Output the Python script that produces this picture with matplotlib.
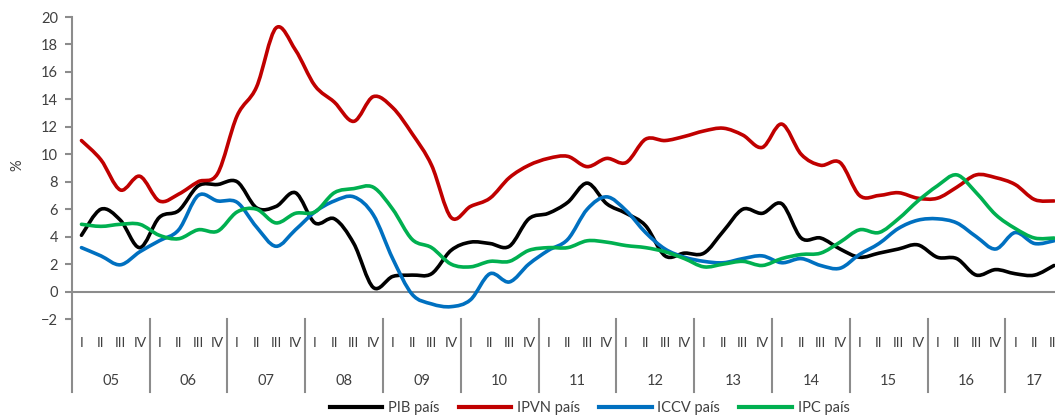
import matplotlib.pyplot as plt
from matplotlib.path import Path
from matplotlib.patches import PathPatch
from matplotlib.lines import Line2D

plt.rcParams['font.family'] = ['Lato', 'DejaVu Sans']

years = ['05', '06', '07', '08', '09', '10', '11', '12', '13', '14', '15', '16', '17']
quarters = ['I', 'II', 'III', 'IV']

# quarterly series, 2005 Q1 .. 2017 Q3 (%)
pib = [4.1, 6.0, 5.2, 3.2, 5.4, 5.9, 7.7, 7.8, 8.0, 6.1, 6.2, 7.2,
       5.0, 5.3, 3.5, 0.3, 1.1, 1.2, 1.3, 3.0, 3.6, 3.5, 3.3, 5.3,
       5.7, 6.5, 7.9, 6.4, 5.7, 4.8, 2.6, 2.8, 2.8, 4.4, 6.0, 5.7,
       6.4, 3.9, 3.9, 3.1, 2.5, 2.8, 3.1, 3.4, 2.5, 2.4, 1.2, 1.6,
       1.3, 1.2, 1.9]
ipvn = [11.0, 9.6, 7.4, 8.4, 6.6, 7.1, 8.0, 8.6, 12.8, 14.9, 19.2, 17.6,
        15.0, 13.8, 12.4, 14.2, 13.4, 11.5, 9.2, 5.4, 6.2, 6.8, 8.3, 9.2,
        9.7, 9.85, 9.1, 9.7, 9.4, 11.1, 11.0, 11.3, 11.7, 11.9, 11.4, 10.5,
        12.2, 10.0, 9.2, 9.4, 7.0, 7.0, 7.2, 6.8, 6.8, 7.6, 8.5, 8.3,
        7.8, 6.7, 6.6]
iccv = [3.2, 2.6, 1.95, 2.9, 3.7, 4.5, 7.0, 6.6, 6.5, 4.7, 3.3, 4.5,
        5.8, 6.6, 6.9, 5.6, 2.4, -0.2, -0.9, -1.1, -0.6, 1.3, 0.7, 2.0,
        3.0, 3.8, 6.0, 6.9, 5.9, 4.3, 3.1, 2.5, 2.2, 2.1, 2.4, 2.6,
        2.1, 2.4, 1.9, 1.7, 2.7, 3.5, 4.6, 5.2, 5.3, 5.0, 4.0, 3.1,
        4.3, 3.5, 3.7]
ipc = [4.9, 4.75, 4.9, 4.9, 4.1, 3.85, 4.5, 4.4, 5.8, 6.0, 5.0, 5.7,
       5.8, 7.2, 7.5, 7.6, 6.0, 3.8, 3.2, 2.0, 1.8, 2.2, 2.2, 3.0,
       3.2, 3.2, 3.7, 3.6, 3.35, 3.2, 2.9, 2.4, 1.8, 2.0, 2.2, 1.9,
       2.4, 2.7, 2.8, 3.6, 4.5, 4.3, 5.3, 6.6, 7.7, 8.5, 7.2, 5.6,
       4.6, 3.9, 3.9]

names = ['PIB país', 'IPVN país', 'ICCV país', 'IPC país']
colors = ['#000000', '#C00000', '#0070C0', '#00B050']
series = [pib, ipvn, iccv, ipc]
gray = '#8C8C8C'
txt = '#404040'


def smooth_path(ys):
    # smoothed line like the spreadsheet one: bezier through every point
    n = len(ys)
    pts = list(zip(range(n), ys))
    verts = [pts[0]]
    codes = [Path.MOVETO]
    for i in range(n - 1):
        p0 = pts[max(i - 1, 0)]
        p1 = pts[i]
        p2 = pts[i + 1]
        p3 = pts[min(i + 2, n - 1)]
        c1 = (p1[0] + (p2[0] - p0[0]) / 6, p1[1] + (p2[1] - p0[1]) / 6)
        c2 = (p2[0] - (p3[0] - p1[0]) / 6, p2[1] - (p3[1] - p1[1]) / 6)
        verts += [c1, c2, p2]
        codes += [Path.CURVE4] * 3
    return Path(verts, codes)


n = len(pib)
fig = plt.figure(figsize=(10.55, 4.18), dpi=100)
# the category axis runs a little past the right edge, as in the source
ax = fig.add_axes([0.068, 0.2368, 0.9403, 0.7225])

for ys, c in zip(series, colors):
    ax.add_patch(PathPatch(smooth_path(ys), facecolor='none', edgecolor=c,
                           lw=2.6, capstyle='round', joinstyle='round', zorder=3))

ax.set_xlim(-0.5, n - 0.5)
ax.set_ylim(-2, 20)
ax.set_yticks(range(-2, 21, 2))
ax.set_xticks([])
ax.axhline(0, color=gray, lw=1.5, zorder=2)

for s in ['top', 'right', 'bottom']:
    ax.spines[s].set_visible(False)
ax.spines['left'].set_color(gray)
ax.spines['left'].set_linewidth(1.5)
ax.tick_params(axis='y', direction='out', length=5, width=1.5, color=gray,
               labelsize=10.5, labelcolor=txt, pad=5)

tr = ax.get_xaxis_transform()
for k, yr in enumerate(years):
    x0 = k * 4 - 0.5
    nq = min(4, n - k * 4)
    ax.plot([x0, x0], [0, -0.242], transform=tr, color=gray, lw=1.5, clip_on=False)
    ax.text(x0 + nq / 2, -0.205, yr, transform=tr, ha='center', va='center',
            fontsize=10.5, color=txt)
    for q in range(nq):
        ax.text(k * 4 + q, -0.08, quarters[q], transform=tr, ha='center',
                va='center', fontsize=10, color=txt)
ax.plot([n - 0.5, n - 0.5], [0, -0.242], transform=tr, color=gray, lw=1.5,
        clip_on=False)

fig.text(0.016, 0.605, '%', rotation=90, ha='center', va='center',
         fontsize=10.5, color=txt)

handles = [Line2D([], [], color=c, lw=3) for c in colors]
fig.legend(handles, names, loc='center', bbox_to_anchor=(0.559, 0.024),
           ncol=4, frameon=False, fontsize=10.5, handlelength=3.6,
           handletextpad=0.4, columnspacing=1.3, labelcolor=txt)

plt.savefig('out.png', dpi=100)
